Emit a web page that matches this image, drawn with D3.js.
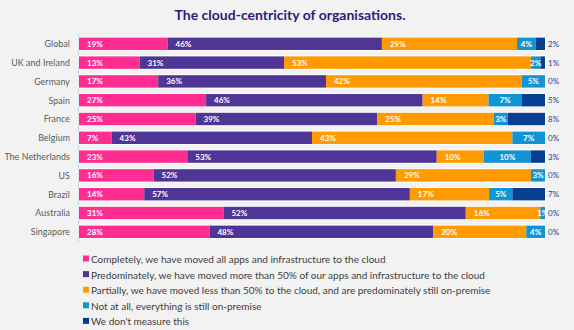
<!DOCTYPE html>
<html>
<head>
<meta charset="utf-8">
<script src="https://cdn.jsdelivr.net/npm/d3@7"></script>
<style>
  body { margin: 0; background: #f2f2f2; }
  svg { display: block; }
  .cat { font-family: Lato, "Open Sans", sans-serif; font-size: 8.8px; fill: #595959; letter-spacing: 0.1px; }
  .inlbl { font-family: Lato, sans-serif; font-size: 8px; font-weight: bold; fill: #fff; }
  .outlbl { font-family: Lato, sans-serif; font-size: 8px; fill: #1f3b8a; }
  .leg { font-family: Lato, sans-serif; font-size: 10px; fill: #404040; }
</style>
</head>
<body>
<div id="chart"></div>
<script>
var width = 574,
    height = 330;

var countries = ["Global", "UK and Ireland", "Germany", "Spain", "France", "Belgium",
  "The Netherlands", "US", "Brazil", "Australia", "Singapore"];

var completely   = [19, 13, 17, 27, 25, 7, 23, 16, 14, 31, 28];
var predominate  = [46, 31, 36, 46, 39, 43, 53, 52, 57, 52, 48];
var partially    = [29, 53, 42, 14, 25, 43, 10, 29, 17, 16, 20];
var notAtAll     = [4, 2, 5, 7, 3, 7, 10, 3, 5, 1, 4];
var dontMeasure  = [2, 1, 0, 5, 8, 0, 3, 0, 7, 0, 0];

var seriesNames = [
  "Completely, we have moved all apps and infrastructure to the cloud",
  "Predominately, we have moved more than 50% of our apps and infrastructure to the cloud",
  "Partially, we have moved less than 50% to the cloud, and are predominately still on-premise",
  "Not at all, everything is still on-premise",
  "We don't measure this"
];

var colorrange = ["#ff2d91", "#4f3595", "#ff9a00", "#1293d4", "#063f8f"];

var allSeries = [completely, predominate, partially, notAtAll, dontMeasure];

// build rows
var rows = countries.map(function (c, i) {
  var vals = allSeries.map(function (s) { return s[i]; });
  var total = d3.sum(vals);
  var x0 = 0;
  var segs = vals.map(function (v, k) {
    var seg = { k: k, v: v, x0: x0 / total, x1: (x0 + v) / total };
    x0 += v;
    return seg;
  });
  return { name: c, segs: segs };
});

var svg = d3.select("#chart")
  .append("svg")
  .attr("width", width)
  .attr("height", height);

svg.append("text")
  .attr("x", 290)
  .attr("y", 19.5)
  .attr("text-anchor", "middle")
  .style("font-family", "Lato, sans-serif")
  .style("font-weight", "bold")
  .style("font-size", "14px")
  .style("fill", "#2e1a80")
  .text("The cloud-centricity of organisations.");

var x = d3.scaleLinear().domain([0, 1]).range([79, 545]);
var y = d3.scaleBand().domain(countries).range([34.4, 241.2]).paddingInner(0.34).paddingOuter(0.17);

// axis line
svg.append("line")
  .attr("x1", 78.5).attr("x2", 78.5)
  .attr("y1", 34).attr("y2", 242)
  .style("stroke", "#c5d3e6");

// category labels
svg.selectAll(".cat")
  .data(countries)
  .enter().append("text")
  .attr("class", "cat")
  .attr("x", 70)
  .attr("y", function (d) { return y(d) + y.bandwidth() / 2 + 3.3; })
  .attr("text-anchor", "end")
  .text(function (d) { return d; });

var rowg = svg.selectAll(".row")
  .data(rows)
  .enter().append("g")
  .attr("class", "row")
  .attr("transform", function (d) { return "translate(0," + y(d.name) + ")"; });

// white outline behind bar
rowg.append("rect")
  .attr("x", x(0) - 0.5)
  .attr("y", -1)
  .attr("width", x(1) - x(0) + 1.5)
  .attr("height", y.bandwidth() + 2)
  .style("fill", "#ffffff");

rowg.selectAll(".seg")
  .data(function (d) { return d.segs; })
  .enter().append("rect")
  .attr("class", "seg")
  .attr("x", function (d) { return x(d.x0); })
  .attr("y", 0)
  .attr("width", function (d) { return Math.max(0, x(d.x1) - x(d.x0)); })
  .attr("height", y.bandwidth())
  .style("fill", function (d) { return colorrange[d.k]; });

// inner labels
rowg.selectAll(".inlbl")
  .data(function (d) { return d.segs.filter(function (s) { return s.k < 4; }); })
  .enter().append("text")
  .attr("class", "inlbl")
  .attr("x", function (d) {
    if (d.k == 3) return (x(d.x0) + x(d.x1)) / 2;
    return x(d.x0) + 8;
  })
  .attr("text-anchor", function (d) { return d.k == 3 ? "middle" : "start"; })
  .attr("y", y.bandwidth() / 2 + 3)
  .text(function (d) { return d.v + "%"; });

// outside labels for "don't measure"
rowg.append("text")
  .attr("class", "outlbl")
  .attr("x", 548)
  .attr("y", y.bandwidth() / 2 + 3)
  .text(function (d) { return d.segs[4].v + "%"; });

// legend
var leg = svg.selectAll(".legrow")
  .data(seriesNames)
  .enter().append("g")
  .attr("class", "legrow")
  .attr("transform", function (d, i) { return "translate(83," + (259.5 + i * 15.6) + ")"; });

leg.append("rect")
  .attr("x", 0).attr("y", -4)
  .attr("width", 6).attr("height", 6)
  .style("fill", function (d, i) { return colorrange[i]; });

leg.append("text")
  .attr("class", "leg")
  .attr("x", 8)
  .attr("y", 3.5)
  .text(function (d) { return d; });
</script>
</body>
</html>
